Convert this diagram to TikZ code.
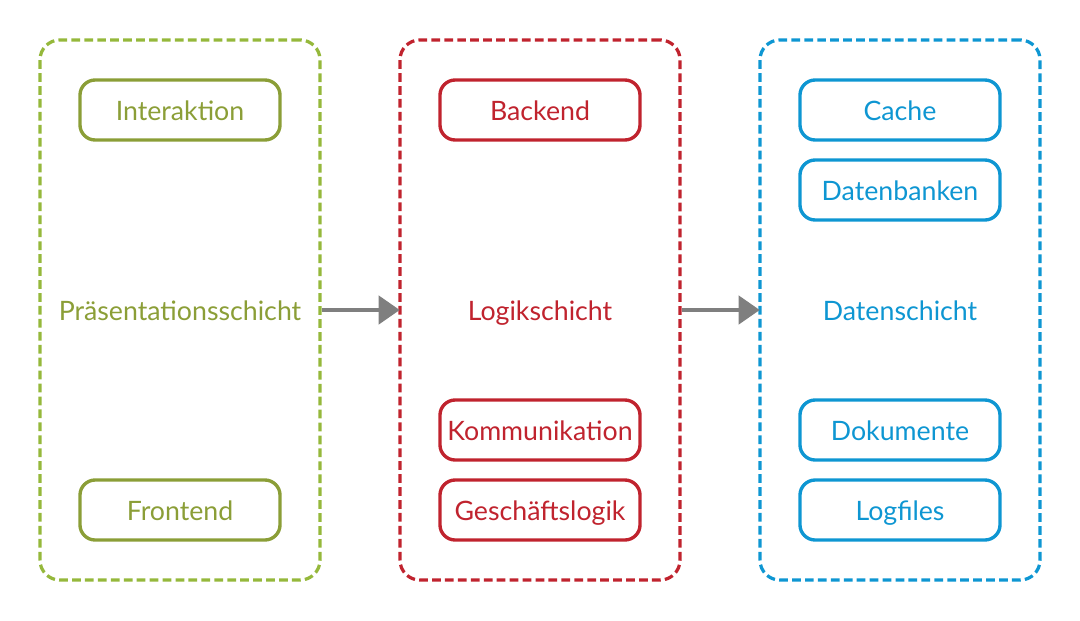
\documentclass[tikz,border=0pt]{standalone}
\usepackage{fontspec}
\setmainfont{Lato}
\usetikzlibrary{arrows.meta}
\definecolor{pgreen}{HTML}{8B9E37}
\definecolor{pgreenl}{HTML}{95B83B}
\definecolor{lred}{HTML}{C0232E}
\definecolor{dblue}{HTML}{0E96D2}
\definecolor{pfeil}{HTML}{7F7F7F}
\tikzset{
  schicht/.style={draw=#1, line width=2.3pt, dash pattern=on 6.2pt off 3pt,
    rounded corners=0.5cm, minimum width=7cm, minimum height=13.5cm,
    text height=17pt, text depth=1.5pt, font=\fontsize{19}{21}\selectfont},
  baustein/.style={draw=#1, text=#1, line width=2.4pt, rounded corners=0.38cm,
    minimum width=5cm, minimum height=1.5cm, inner sep=0pt,
    text height=17pt, text depth=1.5pt, font=\fontsize{19}{21}\selectfont},
  fluss/.style={draw=pfeil, line width=2.9pt, -{Triangle[length=15pt, width=20pt]}, shorten >=-1pt}
}
\begin{document}
\begin{tikzpicture}[x=0.025cm, y=-0.025cm]
    \useasboundingbox (0,0) rectangle (1080,620);
    % Schichten
    \node[schicht=pgreenl, text=pgreen] (pres) at (180,310) {Präsentationsschicht};
    \node[schicht=lred, text=lred] (logik) at (540,310) {Logikschicht};
    \node[schicht=dblue, text=dblue] (daten) at (900,310) {Datenschicht};
    % Bausteine
    \node[baustein=pgreen] (interaktion) at (180,110) {Interaktion};
    \node[baustein=pgreen] (frontend) at (180,510) {Frontend};
    \node[baustein=lred] (backend) at (540,110) {Backend};
    \node[baustein=lred] (komm) at (540,430) {Kommunikation};
    \node[baustein=lred] (gesch) at (540,510) {Geschäftslogik};
    \node[baustein=dblue] (cache) at (900,110) {Cache};
    \node[baustein=dblue] (db) at (900,190) {Datenbanken};
    \node[baustein=dblue] (doku) at (900,430) {Dokumente};
    \node[baustein=dblue] (logs) at (900,510) {Logfiles};
    % Pfeile
    \draw[fluss] (pres.east) -- (logik.west);
    \draw[fluss] (logik.east) -- (daten.west);
\end{tikzpicture}
\end{document}
